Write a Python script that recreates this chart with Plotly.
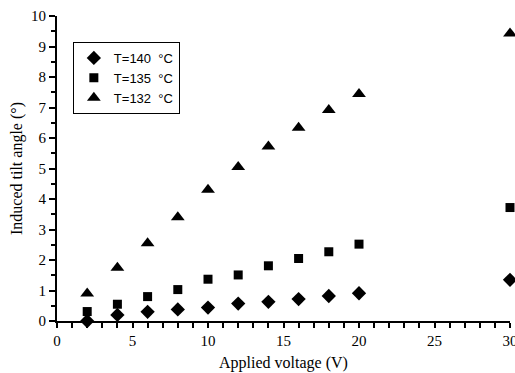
import plotly.graph_objects as go

voltage = [2, 4, 6, 8, 10, 12, 14, 16, 18, 20, 30]
t140 = [0.0, 0.20, 0.30, 0.38, 0.44, 0.57, 0.63, 0.72, 0.82, 0.91, 1.35]
t135 = [0.31, 0.55, 0.80, 1.03, 1.37, 1.51, 1.81, 2.05, 2.27, 2.52, 3.72]
t132 = [0.90, 1.75, 2.55, 3.40, 4.30, 5.05, 5.72, 6.34, 6.92, 7.44, 9.43]
series_names = ["T=140  °C", "T=135  °C", "T=132  °C"]

fig = go.Figure()
fig.add_trace(go.Scatter(x=voltage, y=t140, mode="markers", name=series_names[0], cliponaxis=False,
                         marker=dict(symbol="diamond", size=11, color="black")))
fig.add_trace(go.Scatter(x=voltage, y=t135, mode="markers", name=series_names[1], cliponaxis=False,
                         marker=dict(symbol="square", size=9, color="black")))
fig.add_trace(go.Scatter(x=voltage, y=t132, mode="markers", name=series_names[2], cliponaxis=False,
                         marker=dict(symbol="triangle-up", size=12, color="black")))

serif = "Liberation Serif, Times New Roman, serif"
fig.update_layout(
    width=515, height=373,
    margin=dict(l=57, r=5, t=16, b=52, autoexpand=False),
    paper_bgcolor="white", plot_bgcolor="white",
    font=dict(family=serif, color="black", size=14),
    legend=dict(x=0.035, y=0.915, xanchor="left", yanchor="top",
                bordercolor="black", borderwidth=1, bgcolor="white",
                font=dict(family="Liberation Sans, Arial, sans-serif", size=13),
                itemwidth=30, tracegroupgap=0),
    showlegend=True,
)
fig.update_xaxes(range=[0, 30], tickvals=[0, 5, 10, 15, 20, 25, 30], automargin=False,
                 ticklabeloverflow="allow",
                 showline=True, linecolor="black", linewidth=2,
                 ticks="outside", ticklen=5, tickwidth=2, tickcolor="black",
                 minor=dict(dtick=1, ticks="outside", ticklen=5, tickwidth=1.5, tickcolor="black"),
                 showgrid=False, zeroline=False,
                 tickfont=dict(family=serif, size=15),
                 title=dict(text="Applied voltage (V)", font=dict(family=serif, size=16), standoff=9))
fig.update_yaxes(range=[0, 10], dtick=1, automargin=False,
                 showline=True, linecolor="black", linewidth=2,
                 ticks="outside", ticklen=6, tickwidth=2, tickcolor="black",
                 minor=dict(dtick=0.5, ticks="outside", ticklen=4, tickwidth=1.5, tickcolor="black"),
                 showgrid=False, zeroline=False,
                 tickfont=dict(family=serif, size=15),
                 title=dict(text="Induced tilt angle (°)", font=dict(family=serif, size=16), standoff=4))

fig.write_html("out.html", config={"displayModeBar": False},
               post_script="document.body.style.margin='0';document.body.style.overflow='hidden';")
